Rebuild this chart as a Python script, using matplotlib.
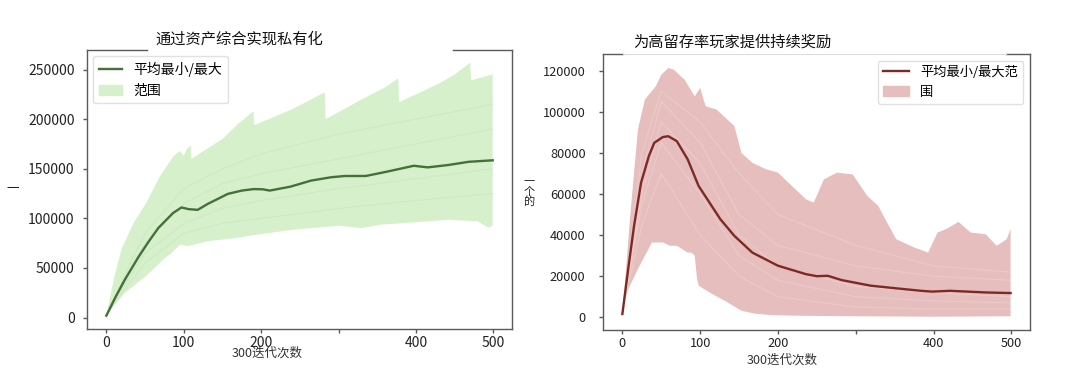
import numpy as np
import matplotlib.pyplot as plt
from matplotlib.patches import Patch
from matplotlib.lines import Line2D

plt.rcParams['font.family'] = ['Noto Sans CJK SC', 'DejaVu Sans']

# ---- left chart: 通过资产综合实现私有化 ----
left_mean_x = [0, 12, 24, 42, 55, 67, 86, 97, 106, 118, 131, 157, 175, 190, 202, 211,
               238, 264, 290, 308, 335, 362, 397, 415, 441, 468, 499]
left_mean = [2000, 21000, 38400, 61800, 77000, 90200, 105300, 111000, 109300, 108600,
             114600, 124700, 128000, 129500, 129300, 128000, 132000, 138000, 141400,
             142700, 142700, 147000, 153000, 151400, 153700, 157000, 158500]

left_hi_x = [0, 10, 20, 35, 51, 69, 86, 95, 100, 104, 109, 110, 130, 150, 170, 190, 191,
             210, 240, 260, 282, 283, 300, 330, 360, 377, 378, 400, 430, 450, 470, 471, 499]
left_hi = [2000, 40000, 70000, 95000, 115000, 142000, 162000, 168000, 163000, 170000,
           173000, 160000, 170000, 180000, 195000, 208000, 194000, 200000, 210000, 218000,
           227000, 200000, 207000, 220000, 232000, 241000, 217000, 225000, 236000, 245000,
           257000, 239000, 245000]

left_lo_x = [0, 12, 24, 51, 78, 82, 95, 105, 113, 131, 166, 193, 242, 300, 330, 353,
             397, 441, 480, 490, 495, 499]
left_lo = [2000, 14000, 25000, 41800, 61800, 63500, 73500, 72000, 73500, 77000, 80000,
           83500, 88600, 92600, 90200, 93600, 96000, 98600, 97000, 92000, 91000, 93000]

run_x = [0, 25, 50, 100, 150, 200, 300, 400, 499]
left_runs = [
    [2000, 45000, 85000, 130000, 150000, 165000, 185000, 200000, 215000],
    [2000, 35000, 65000, 95000, 110000, 118000, 130000, 140000, 150000],
    [2000, 30000, 55000, 85000, 95000, 100000, 110000, 118000, 125000],
    [2000, 40000, 75000, 115000, 135000, 145000, 160000, 175000, 190000],
]

# ---- right chart: 为高留存率玩家提供持续奖励 ----
right_mean_x = [0, 8, 15, 24, 34, 41, 52, 59, 70, 84, 98, 112, 126, 144, 167, 200, 236,
                250, 264, 282, 319, 352, 384, 398, 421, 467, 499]
right_mean = [1600, 25000, 44500, 65500, 78400, 84900, 87700, 88100, 85700, 76800, 63900,
              55800, 47700, 39600, 31500, 25100, 21000, 20000, 20200, 18100, 15400, 14100,
              12900, 12500, 12900, 12100, 11800]

right_hi_x = [0, 5, 10, 20, 29, 43, 50, 59, 66, 80, 93, 100, 107, 121, 135, 144, 153, 167,
              185, 200, 218, 236, 246, 259, 276, 296, 315, 329, 338, 352, 375, 393, 405,
              416, 432, 448, 467, 481, 494, 499]
right_hi = [1600, 25000, 49000, 91400, 106000, 112400, 118000, 121300, 120500, 115600,
            107500, 111600, 102700, 101100, 96200, 93000, 80000, 75200, 72000, 70400,
            63900, 57400, 55800, 67100, 70400, 69500, 59000, 54200, 47700, 38000, 34000,
            31500, 41200, 42900, 46400, 41200, 40400, 34800, 38000, 42900]

right_lo_x = [0, 3, 8, 20, 38, 52, 61, 70, 84, 89, 93, 96, 98, 112, 135, 153, 170, 190,
              220, 300, 400, 499]
right_lo = [1600, 8000, 14000, 23500, 36400, 36400, 34800, 34800, 31500, 31500, 30000,
            18600, 15400, 12100, 7300, 3200, 1800, 1100, 800, 500, 300, 500]

right_runs = [
    [1600, 70000, 105000, 85000, 50000, 35000, 25000, 20000, 18000],
    [1600, 55000, 85000, 60000, 30000, 18000, 10000, 8000, 7000],
    [1600, 80000, 110000, 95000, 70000, 50000, 35000, 25000, 22000],
    [1600, 45000, 70000, 40000, 20000, 10000, 5000, 4000, 4000],
    [1600, 60000, 95000, 75000, 40000, 25000, 15000, 12000, 10000],
]

x_ticks = [0, 100, 200, 300, 400, 500]
x_ticklabels = ['0', '100', '200', '', '400', '500']

spine_col = '#5a5a5a'


def fill_band(ax, lo_x, lo, hi_x, hi, color):
    # polygon: upper edge left->right then lower edge right->left
    px = list(hi_x) + list(lo_x)[::-1]
    py = list(hi) + list(lo)[::-1]
    ax.fill(px, py, color=color, lw=0, zorder=1)


def style_axes(ax, tick_size, ypad, gap):
    for s in ax.spines.values():
        s.set_color(spine_col)
        s.set_linewidth(1.0)
    ax.spines['top'].set_visible(False)
    ax.plot([0, gap[0]], [1, 1], transform=ax.transAxes, clip_on=False,
            color=spine_col, lw=1.0)
    ax.plot([gap[1], 1], [1, 1], transform=ax.transAxes, clip_on=False,
            color=spine_col, lw=1.0)
    ax.set_xticks(x_ticks)
    ax.set_xticklabels(x_ticklabels)
    ax.tick_params(axis='both', colors=spine_col, labelcolor='#222222',
                   labelsize=tick_size, length=3, width=1.0)
    ax.tick_params(axis='y', pad=ypad)
    ax.tick_params(axis='x', pad=2)


fig = plt.figure(figsize=(10.8, 3.82), dpi=100)

# left
ax1 = fig.add_axes([0.0806, 0.1387, 0.3935, 0.730])
fill_band(ax1, left_lo_x, left_lo, left_hi_x, left_hi, '#d5f0cb')
for r in left_runs:
    ax1.plot(run_x, r, color='#9aa89a', alpha=0.1, lw=0.8, zorder=2)
ax1.plot(left_mean_x, left_mean, color='#44703a', lw=1.7, zorder=3)
ax1.set_xlim(-24.95, 523.95)
ax1.set_ylim(-11500, 269500)
ax1.set_yticks([0, 50000, 100000, 150000, 200000, 250000])
style_axes(ax1, 10, 6, (0.141, 0.861))
ax1.legend(handles=[Line2D([], [], color='#44703a', lw=1.7),
                    Patch(color='#d5f0cb')],
           labels=['平均最小/最大', '范围'], loc='upper left',
           bbox_to_anchor=(0.014, 0.978), borderaxespad=0, fontsize=10,
           handlelength=1.7, framealpha=0.9, edgecolor='#dddddd', fancybox=True)

# right
ax2 = fig.add_axes([0.5583, 0.1361, 0.3954, 0.7225])
fill_band(ax2, right_lo_x, right_lo, right_hi_x, right_hi, '#e6bebd')
for r in right_runs:
    ax2.plot(run_x, r, color='white', alpha=0.2, lw=0.8, zorder=2)
ax2.plot(right_mean_x, right_mean, color='#7e2a24', lw=1.7, zorder=3)
ax2.set_xlim(-24.95, 523.95)
ax2.set_ylim(-6180, 128100)
ax2.set_yticks([0, 20000, 40000, 60000, 80000, 100000, 120000])
style_axes(ax2, 9.2, 9.5, (0.047, 0.944))
ax2.plot([0.047, 0.944], [1, 1], transform=ax2.transAxes, clip_on=False,
         color='#dcdcdc', lw=0.8)
ax2.legend(handles=[Line2D([], [], color='#7e2a24', lw=1.7),
                    Patch(color='#e6bebd')],
           labels=['平均最小/最大范', '围'], loc='upper right',
           bbox_to_anchor=(0.984, 0.976), borderaxespad=0, fontsize=9.5,
           handlelength=2.0, framealpha=0.9, edgecolor='#dddddd', fancybox=True)

# titles, axis labels
fig.text(155 / 1080, 1 - 39 / 382, '通过资产综合实现私有化', fontsize=11,
         ha='left', va='center', color='#111111')
fig.text(633 / 1080, 1 - 41.7 / 382, '为高留存率玩家提供持续奖励', fontsize=11,
         ha='left', va='center', color='#111111')
fig.text(267 / 1080, 1 - 352.7 / 382, '300迭代次数', fontsize=9,
         ha='center', va='center', color='#333333')
fig.text(782 / 1080, 1 - 360 / 382, '300迭代次数', fontsize=9,
         ha='center', va='center', color='#333333')
fig.text(13 / 1080, 1 - 188 / 382, '一', fontsize=9, ha='center', va='center',
         color='#222222')
fig.text(529 / 1080, 1 - 192 / 382, '一\n个\n的', fontsize=8, ha='center',
         va='center', linespacing=0.95, color='#222222')

fig.savefig('out.png', dpi=100)
